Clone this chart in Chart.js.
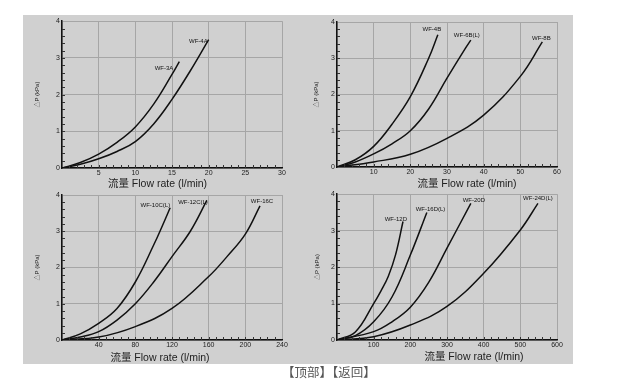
<!DOCTYPE html>
<html><head><meta charset="utf-8">
<script src="https://cdn.jsdelivr.net/npm/chart.js@4.4.0/dist/chart.umd.min.js"></script>
<style>
html,body{margin:0;padding:0;background:#fff;width:626px;height:380px;overflow:hidden}
#bg{position:absolute;left:23px;top:15px;width:550px;height:349px;background:#d0d0d0}
canvas{position:absolute}
#nav{position:absolute;left:282px;top:364px;font-size:12.5px;line-height:16px;font-family:"Noto Sans CJK SC";color:#555;white-space:nowrap}
</style></head><body>
<div id="bg"></div>
<canvas id="c1" width="275" height="180" style="left:23px;top:15px"></canvas>
<canvas id="c2" width="275" height="180" style="left:298px;top:15px"></canvas>
<canvas id="c3" width="275" height="180" style="left:23px;top:188px"></canvas>
<canvas id="c4" width="275" height="180" style="left:298px;top:188px"></canvas>
<div id="nav">【顶部】【返回】</div>
<script>
// ---- tick labels ----
const yTicks = [0, 1, 2, 3, 4];
const xTicksA = [0, 5, 10, 15, 20, 25, 30];
const xTicksB = [0, 10, 20, 30, 40, 50, 60];
const xTicksC = [0, 40, 80, 120, 160, 200, 240];
const xTicksD = [0, 100, 200, 300, 400, 500, 600];
const xTitle = '流量 Flow rate (l/min)';
const yTitle = '△P (kPa)';

// ---- panel A ----
const wf3A_x = [0, 2.5, 5, 7.5, 10, 12.5, 15, 16];
const wf3A_y = [0, 0.15, 0.38, 0.7, 1.12, 1.74, 2.55, 2.9];
const wf4A_x = [0, 2.5, 5, 7.5, 10, 12.5, 15, 17.5, 20];
const wf4A_y = [0, 0.1, 0.25, 0.45, 0.72, 1.2, 1.87, 2.65, 3.5];
// ---- panel B ----
const wf4B_x = [0, 5, 10, 15, 20, 25, 27.5];
const wf4B_y = [0, 0.2, 0.57, 1.18, 1.94, 3.0, 3.65];
const wf6B_x = [0, 5, 10, 15, 20, 25, 30, 35, 36.5];
const wf6B_y = [0, 0.14, 0.36, 0.64, 1.0, 1.6, 2.45, 3.27, 3.5];
const wf8B_x = [0, 10, 20, 30, 40, 50, 56];
const wf8B_y = [0, 0.14, 0.35, 0.79, 1.43, 2.5, 3.45];
// ---- panel C ----
const wf10C_x = [0, 20, 40, 60, 80, 100, 110, 118];
const wf10C_y = [0, 0.17, 0.46, 0.87, 1.6, 2.62, 3.18, 3.65];
const wf12C_x = [0, 20, 40, 60, 80, 100, 120, 140, 158];
const wf12C_y = [0, 0.08, 0.23, 0.55, 1.0, 1.6, 2.3, 3.0, 3.85];
const wf16C_x = [0, 40, 80, 120, 160, 180, 200, 216];
const wf16C_y = [0, 0.08, 0.37, 0.87, 1.75, 2.3, 2.92, 3.7];
// ---- panel D ----
const wf12D_x = [0, 50, 100, 120, 140, 160, 180];
const wf12D_y = [0, 0.22, 1.0, 1.35, 1.75, 2.35, 3.25];
const wf16D_x = [0, 50, 100, 150, 200, 245];
const wf16D_y = [0, 0.12, 0.5, 1.18, 2.33, 3.5];
const wf20D_x = [0, 100, 150, 200, 250, 300, 365];
const wf20D_y = [0, 0.23, 0.5, 0.9, 1.58, 2.52, 3.75];
const wf24D_x = [0, 100, 200, 300, 400, 500, 548];
const wf24D_y = [0, 0.09, 0.41, 0.92, 1.83, 3.02, 3.75];

const FONT = '"Liberation Sans", "Noto Sans CJK SC", sans-serif';

function series(name, xs, ys, lab) {
  return { name, xs, ys, lab };
}

const minorTicks = {
  id: 'minorTicks',
  afterDatasetsDraw(chart) {
    const ctx = chart.ctx, xs = chart.scales.x, ys = chart.scales.y, a = chart.chartArea;
    const xt = chart.options.$xt;
    const stepX = (xt[1] - xt[0]) / 5;
    ctx.save();
    ctx.strokeStyle = '#333';
    ctx.lineWidth = 1;
    ctx.beginPath();
    for (let v = xt[0] + stepX; v < xt[xt.length - 1] - 1e-9; v += stepX) {
      const px = Math.round(xs.getPixelForValue(v)) + 0.5;
      ctx.moveTo(px, a.bottom); ctx.lineTo(px, a.bottom - 3);
    }
    const stepY = (yTicks[1] - yTicks[0]) / 5;
    for (let v = stepY; v < yTicks[yTicks.length - 1] - 1e-9; v += stepY) {
      const py = Math.round(ys.getPixelForValue(v)) + 0.5;
      ctx.moveTo(a.left, py); ctx.lineTo(a.left + 3, py);
    }
    ctx.stroke();
    ctx.restore();
  }
};

const curveLabels = {
  id: 'curveLabels',
  afterDatasetsDraw(chart) {
    const ctx = chart.ctx;
    ctx.save();
    ctx.font = '6px ' + FONT;
    ctx.fillStyle = '#111';
    ctx.textBaseline = 'middle';
    chart.data.datasets.forEach((ds, i) => {
      const meta = chart.getDatasetMeta(i);
      const p = meta.data[meta.data.length - 1];
      const l = ds.lab;
      ctx.textAlign = l.align;
      ctx.fillText(ds.label, p.x + l.dx, p.y + l.dy);
    });
    ctx.restore();
  }
};

const axisTitle = {
  id: 'axisTitle',
  afterDraw(chart) {
    const ctx = chart.ctx, t = chart.options.$tt;
    ctx.save();
    ctx.font = '10.5px ' + FONT;
    ctx.fillStyle = '#222';
    ctx.textAlign = 'center';
    ctx.textBaseline = 'middle';
    ctx.fillText(xTitle, t.x, t.y);
    ctx.restore();
  }
};

function build(id, xTicks, list, pad, yW, xH, title) {
  return new Chart(document.getElementById(id), {
    type: 'line',
    data: {
      datasets: list.map(s => ({
        label: s.name,
        data: s.xs.map((v, i) => ({ x: v, y: s.ys[i] })),
        lab: s.lab,
        borderColor: '#111',
        borderWidth: 1.5,
        pointRadius: 0,
        tension: 0.4,
        fill: false
      }))
    },
    options: {
      $xt: xTicks, $tt: title,
      responsive: false,
      animation: false,
      events: [],
      layout: { padding: pad },
      plugins: { legend: { display: false }, tooltip: { enabled: false } },
      scales: {
        x: {
          type: 'linear',
          min: xTicks[0], max: xTicks[xTicks.length - 1],
          afterBuildTicks: s => { s.ticks = xTicks.map(v => ({ value: v })); },
          ticks: {
            callback: v => (v === 0 ? '' : String(v)),
            font: { size: 7, family: FONT }, color: '#222', padding: 1,
            maxRotation: 0, autoSkip: false
          },
          grid: { color: '#a6a6a6', lineWidth: 1, drawTicks: false },
          border: { display: true, color: '#111', width: 1.5 },
          afterFit: s => { s.height = xH; }
        },
        y: {
          type: 'linear', min: 0, max: 4,
          afterBuildTicks: s => { s.ticks = yTicks.map(v => ({ value: v })); },
          ticks: { font: { size: 7, family: FONT }, color: '#222', padding: 2 },
          grid: { color: '#a6a6a6', lineWidth: 1, drawTicks: false },
          border: { display: true, color: '#111', width: 1.5 },
          title: { display: true, text: yTitle, font: { size: 6, family: FONT }, color: '#222', padding: 0 },
          afterFit: s => { s.width = yW; }
        }
      }
    },
    plugins: [minorTicks, curveLabels, axisTitle]
  });
}

build('c1', xTicksA, [
  series('WF-3A', wf3A_x, wf3A_y, { align: 'right', dx: -6, dy: 7 }),
  series('WF-4A', wf4A_x, wf4A_y, { align: 'right', dx: -1, dy: 1.5 })
], { left: 11, top: 6, right: 16, bottom: 0 }, 28, 27, { x: 134.5, y: 169 });

build('c2', xTicksB, [
  series('WF-4B', wf4B_x, wf4B_y, { align: 'center', dx: -6, dy: -5 }),
  series('WF-6B(L)', wf6B_x, wf6B_y, { align: 'center', dx: -4, dy: -4.5 }),
  series('WF-8B', wf8B_x, wf8B_y, { align: 'center', dx: -1, dy: -4 })
], { left: 15, top: 7, right: 16, bottom: 0 }, 24, 28, { x: 169, y: 169 });

build('c3', xTicksC, [
  series('WF-10C(L)', wf10C_x, wf10C_y, { align: 'right', dx: 0, dy: -2 }),
  series('WF-12C(L)', wf12C_x, wf12C_y, { align: 'right', dx: 1, dy: 2 }),
  series('WF-16C', wf16C_x, wf16C_y, { align: 'center', dx: 2, dy: -5 })
], { left: 11, top: 7, right: 16, bottom: 0 }, 28, 28, { x: 137, y: 170 });

build('c4', xTicksD, [
  series('WF-12D', wf12D_x, wf12D_y, { align: 'right', dx: 4, dy: -2.5 }),
  series('WF-16D(L)', wf16D_x, wf16D_y, { align: 'center', dx: 3.7, dy: -3 }),
  series('WF-20D', wf20D_x, wf20D_y, { align: 'center', dx: 3, dy: -3 }),
  series('WF-24D(L)', wf24D_x, wf24D_y, { align: 'center', dx: 0, dy: -4.5 })
], { left: 16, top: 6, right: 16, bottom: 0 }, 23, 28, { x: 176, y: 169 });
</script>
</body></html>
